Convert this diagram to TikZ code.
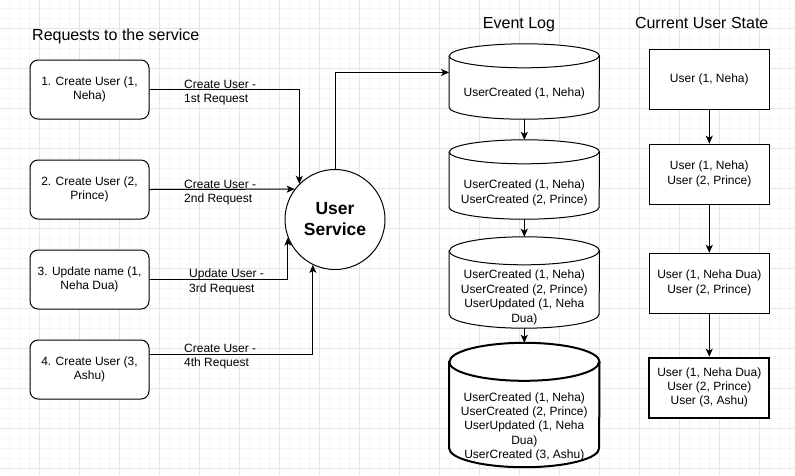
\documentclass[tikz,border=0pt]{standalone}
\usepackage{fontspec}
\setmainfont{Liberation Sans}
\usetikzlibrary{arrows.meta,calc}
\newcommand\cylout[3]{%
  \draw[line width=1pt,fill=white,#3] ([yshift=-#2pt]#1.north west) -- ([yshift=#2pt]#1.south west)
    arc[start angle=180,end angle=360,x radius=75pt,y radius=#2pt]
    -- ([yshift=-#2pt]#1.north east)
    arc[start angle=0,end angle=180,x radius=75pt,y radius=#2pt] -- cycle;
  \draw[line width=1pt,#3] ([yshift=-#2pt]#1.north west)
    arc[start angle=180,end angle=360,x radius=75pt,y radius=#2pt];}
\newcommand\lns[1]{\raisebox{-1.5pt}{\begin{tabular}{@{}c@{}}#1\end{tabular}}}
\begin{document}
\begin{tikzpicture}[x=1pt,y=1pt,
  gridminor/.style={draw=black!4, line width=1pt},
  gridmajor/.style={draw=black!10, line width=1pt},
  txt/.style={align=center, inner sep=0pt, font=\fontsize{12pt}{14.4pt}\selectfont},
  reqbox/.style={txt, draw, line width=1pt, fill=white, rounded corners=8pt, minimum width=119pt, minimum height=59pt},
  statebox/.style={txt, draw, line width=1pt, fill=white, minimum width=120pt, minimum height=60pt},
  svcnode/.style={circle, draw, line width=1pt, fill=white, minimum size=100pt, inner sep=0pt, align=center, font=\fontsize{17.5pt}{21pt}\selectfont\bfseries},
  cylnode/.style={draw=none, minimum width=150pt, inner sep=0pt},
  elabel/.style={txt, anchor=west, align=left},
  titlet/.style={inner sep=0pt, font=\fontsize{16pt}{19pt}\selectfont},
  arr/.style={line width=1pt, -{Stealth[length=8pt,width=7pt,inset=2pt]}}
]
\useasboundingbox (0,0) rectangle (795,-475);
\fill[white] (0,0) rectangle (795,-475);
% grid
\foreach \x in {9.5,19.5,...,795} \draw[gridminor] (\x,0) -- (\x,-475);
\foreach \y in {8,18,...,475} \draw[gridminor] (0,-\y) -- (795,-\y);
\foreach \x in {39.5,79.5,...,795} \draw[gridmajor] (\x,0) -- (\x,-475);
\foreach \y in {28,68,...,475} \draw[gridmajor] (0,-\y) -- (795,-\y);

% titles
\node[titlet, anchor=base west] (t1) at (32,-40.7) {Requests to the service};
\node[titlet, anchor=base] (t2) at (519,-28.3) {Event Log};
\node[titlet, anchor=base] (t3) at (701.7,-28.3) {Current User State};

% request boxes
\node[reqbox] (b1) at (89.5,-89.5) {\lns{1. Create User (1,\\Neha)}};
\node[reqbox] (b2) at (89.5,-189.5) {\lns{2. Create User (2,\\Prince)}};
\node[reqbox] (b3) at (89.5,-279.5) {\lns{3. Update name (1,\\Neha Dua)}};
\node[reqbox] (b4) at (89.5,-369.5) {\lns{4. Create User (3,\\Ashu)}};

% service
\node[svcnode] (svc) at (335,-219.5) {User\\Service};

% edge labels
\node[elabel] (l1) at (184,-92.8) {Create User -\\1st Request};
\node[elabel] (l2) at (184,-192.3) {Create User -\\2nd Request};
\node[elabel] (l3) at (189,-281.8) {Update User -\\3rd Request};
\node[elabel] (l4) at (184,-356.8) {Create User -\\4th Request};

% request arrows
\draw[arr] (b1.east) -| (svc.135.6);
\draw[arr] (b2.east) -- (svc.143.13);
\draw[arr] (b3.east) -| (svc.201);
\draw[arr] ($(b4.north east)!0.25!(b4.south east)$) -| (svc.244.3);

% event log cylinders
\node[cylnode, minimum height=75pt] (c1) at (524.3,-81.5) {};
\node[cylnode, minimum height=79pt] (c2) at (524.3,-179.5) {};
\node[cylnode, minimum height=91pt] (c3) at (524.3,-282.5) {};
\node[cylnode, minimum height=124pt] (c4) at (524.3,-405) {};
\cylout{c1}{12}{}
\cylout{c2}{12}{}
\cylout{c3}{14}{}
\cylout{c4}{19}{line width=2pt}
\node[txt] (c1t) at (524.3,-93) {UserCreated (1, Neha)};
\node[txt] (c2t) at (524.3,-192.8) {UserCreated (1, Neha)\\UserCreated (2, Prince)};
\node[txt] (c3t) at (524.3,-297.3) {UserCreated (1, Neha)\\UserCreated (2, Prince)\\UserUpdated (1, Neha\\Dua)};
\node[txt] (c4t) at (524.3,-426.8) {UserCreated (1, Neha)\\UserCreated (2, Prince)\\UserUpdated (1, Neha\\Dua)\\UserCreated (3, Ashu)};

\draw[arr] (svc.north) |- ($(c1.north west)!0.38!(c1.south west)$);
\draw[arr] (c1.south) -- (c2.north);
\draw[arr] (c2.south) -- (c3.north);
\draw[arr] (c3.south) -- (c4.north);

% current user state
\node[statebox] (r1) at (709.3,-79.3) {\lns{User (1, Neha)}};
\node[statebox] (r2) at (709.3,-174.2) {\lns{User (1, Neha)\\User (2, Prince)}};
\node[statebox] (r3) at (709.3,-283.3) {\lns{User (1, Neha Dua)\\User (2, Prince)}};
\node[statebox, line width=2pt] (r4) at (709.3,-387.7) {\lns{User (1, Neha Dua)\\User (2, Prince)\\User (3, Ashu)}};
\draw[arr] (r1.south) -- (r2.north);
\draw[arr] (r2.south) -- (r3.north);
\draw[arr] (r3.south) -- (r4.north);
\end{tikzpicture}
\end{document}
